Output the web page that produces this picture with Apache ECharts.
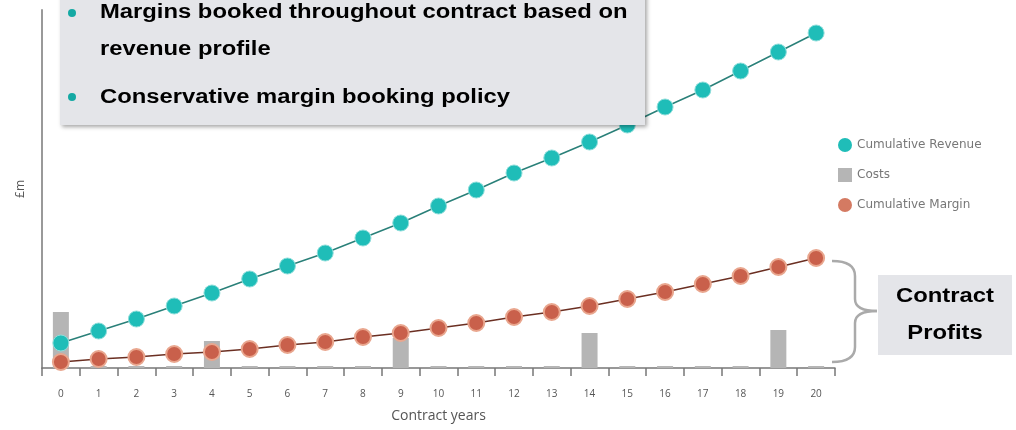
<!DOCTYPE html>
<html>
<head>
<meta charset="utf-8">
<script src="https://cdn.jsdelivr.net/npm/echarts@6/dist/echarts.min.js"></script>
<style>
html,body{margin:0;padding:0;background:#fff;}
#chart{width:1016px;height:430px;}
</style>
</head>
<body>
<div id="chart"></div>
<script>
const years = ['0','1','2','3','4','5','6','7','8','9','10','11','12','13','14','15','16','17','18','19','20'];
const cumulativeRevenue = [25,37,49,62,75,89,102,115,130,145,162,178,195,210,226,243,261,278,297,316,335];
const costs = [56,2,2,2,27,2,2,2,2,30,2,2,2,2,35,2,2,2,2,38,2];
const cumulativeMargin = [6,9,11,14,16,19,23,26,31,35,40,45,51,56,62,69,76,84,92,101,110];
const bullets = ['Margins booked throughout contract based on', 'revenue profile', 'Conservative margin booking policy'];
const calloutLines = ['Contract', 'Profits'];

const chart = echarts.init(document.getElementById('chart'));
const teal = '#1fbdb8';
const rust = '#c9604b';
const grey = '#b5b5b5';
const labelFont = '"Open Sans", "Noto Sans", sans-serif';
const boldFont = '"Liberation Sans", Arial, sans-serif';
const sx = 1.19;
const braceStyle = { stroke: '#aaaaaa', lineWidth: 2.5, fill: null };

chart.setOption({
  animation: false,
  backgroundColor: '#ffffff',
  grid: { left: 42, right: 181, top: 10, bottom: 62 },
  legend: {
    orient: 'vertical', left: 833, top: 133, itemWidth: 14, itemHeight: 14, itemGap: 16,
    textStyle: { fontFamily: '"DejaVu Sans", sans-serif', fontSize: 12, color: '#777' },
    data: [
      { name: 'Cumulative Revenue', icon: 'circle', itemStyle: { color: teal, borderWidth: 0 } },
      { name: 'Costs', icon: 'rect', itemStyle: { color: grey } },
      { name: 'Cumulative Margin', icon: 'circle', itemStyle: { color: '#d47a62', borderWidth: 0 } }
    ]
  },
  xAxis: {
    type: 'category', data: years, boundaryGap: true,
    name: 'Contract years', nameLocation: 'middle', nameGap: 41,
    nameTextStyle: { fontFamily: labelFont, fontSize: 14, color: '#555' },
    axisLine: { lineStyle: { color: '#777', width: 1.5 } },
    axisTick: { show: true, interval: 0, length: 8, lineStyle: { color: '#777', width: 1.5 } },
    axisLabel: { interval: 0, margin: 21, fontFamily: labelFont, fontSize: 10, color: '#555' }
  },
  yAxis: {
    type: 'value', min: 0, max: 358,
    name: '£m', nameLocation: 'middle', nameGap: 15, nameRotate: 90,
    nameTextStyle: { fontFamily: labelFont, fontSize: 12, color: '#555' },
    axisLine: { show: true, lineStyle: { color: '#999', width: 2 } },
    axisTick: { show: false }, axisLabel: { show: false }, splitLine: { show: false }
  },
  series: [
    { name: 'Costs', type: 'bar', data: costs, barWidth: 16, itemStyle: { color: grey }, z: 1 },
    { name: 'Cumulative Revenue', type: 'line', data: cumulativeRevenue, symbol: 'circle', symbolSize: 16,
      lineStyle: { color: '#2a8079', width: 1.5 },
      itemStyle: { color: teal, borderColor: '#8fdedb', borderWidth: 1 }, z: 3 },
    { name: 'Cumulative Margin', type: 'line', data: cumulativeMargin, symbol: 'circle', symbolSize: 16,
      lineStyle: { color: '#6b2f22', width: 1.5 },
      itemStyle: { color: rust, borderColor: '#e9a68e', borderWidth: 2 }, z: 3 }
  ],
  graphic: [
    { type: 'rect', shape: { x: 60, y: -10, width: 585, height: 135 }, z: 10,
      style: { fill: '#e4e5e9', shadowBlur: 4, shadowOffsetX: 2, shadowOffsetY: 2, shadowColor: 'rgba(0,0,0,0.35)' } },
    { type: 'circle', shape: { cx: 72, cy: 13, r: 4 }, z: 11, style: { fill: '#14a9a4' } },
    { type: 'circle', shape: { cx: 72, cy: 97, r: 4 }, z: 11, style: { fill: '#14a9a4' } },
    { type: 'text', x: 100, y: 12.5, scaleX: sx, z: 11, style: { text: bullets[0], font: 'bold 20px ' + boldFont, fill: '#000', verticalAlign: 'middle' } },
    { type: 'text', x: 100, y: 49.5, scaleX: sx, z: 11, style: { text: bullets[1], font: 'bold 20px ' + boldFont, fill: '#000', verticalAlign: 'middle' } },
    { type: 'text', x: 100, y: 97.5, scaleX: sx, z: 11, style: { text: bullets[2], font: 'bold 20px ' + boldFont, fill: '#000', verticalAlign: 'middle' } },
    { type: 'bezierCurve', z: 10, shape: { x1: 832, y1: 261, cpx1: 855, cpy1: 261, x2: 855, y2: 276 }, style: braceStyle },
    { type: 'line', z: 10, shape: { x1: 855, y1: 276, x2: 855, y2: 299 }, style: braceStyle },
    { type: 'bezierCurve', z: 10, shape: { x1: 855, y1: 299, cpx1: 855, cpy1: 311, x2: 877, y2: 311 }, style: braceStyle },
    { type: 'bezierCurve', z: 10, shape: { x1: 877, y1: 311, cpx1: 855, cpy1: 311, x2: 855, y2: 323 }, style: braceStyle },
    { type: 'line', z: 10, shape: { x1: 855, y1: 323, x2: 855, y2: 347 }, style: braceStyle },
    { type: 'bezierCurve', z: 10, shape: { x1: 855, y1: 347, cpx1: 855, cpy1: 362, x2: 832, y2: 362 }, style: braceStyle },
    { type: 'rect', shape: { x: 878, y: 275, width: 134, height: 80 }, z: 10, style: { fill: '#e4e5e9' } },
    { type: 'text', x: 945, y: 296, scaleX: sx, z: 11, style: { text: calloutLines[0], font: 'bold 20px ' + boldFont, fill: '#000', align: 'center', verticalAlign: 'middle' } },
    { type: 'text', x: 945, y: 333, scaleX: sx, z: 11, style: { text: calloutLines[1], font: 'bold 20px ' + boldFont, fill: '#000', align: 'center', verticalAlign: 'middle' } }
  ]
});
</script>
</body>
</html>
